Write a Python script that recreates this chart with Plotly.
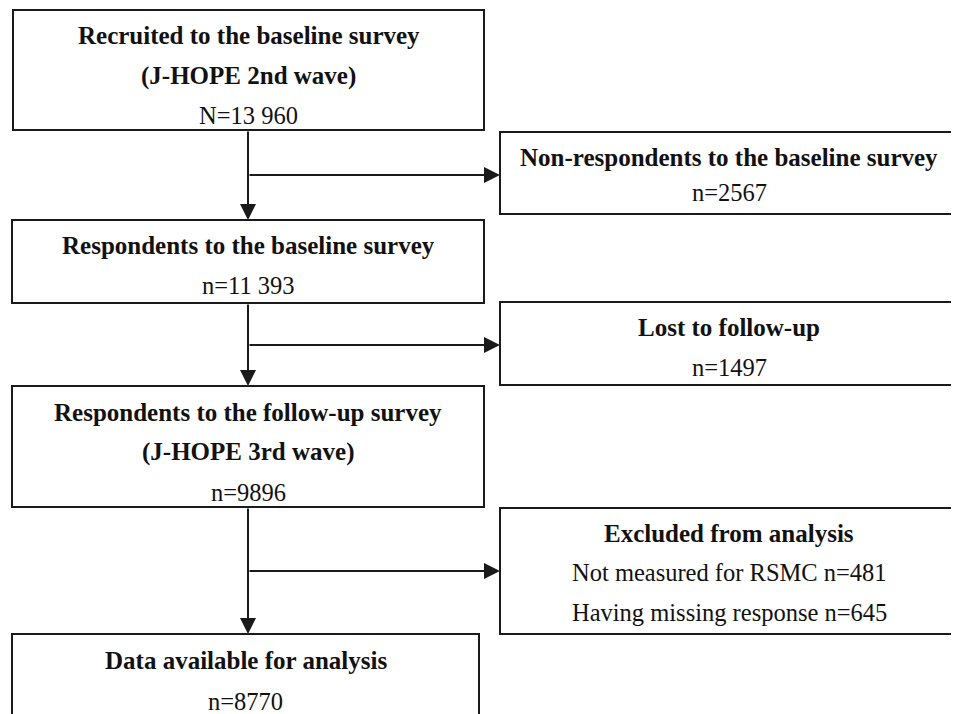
import plotly.graph_objects as go

# ---- data ----
stage_titles = [
    ["Recruited to the baseline survey", "(J-HOPE 2nd wave)"],
    ["Respondents to the baseline survey"],
    ["Respondents to the follow-up survey", "(J-HOPE 3rd wave)"],
    ["Data available for analysis"],
]
stage_counts = ["N=13 960", "n=11 393", "n=9896", "n=8770"]

excl_titles = ["Non-respondents to the baseline survey", "Lost to follow-up", "Excluded from analysis"]
excl_lines = [["n=2567"], ["n=1497"], ["Not measured for RSMC n=481", "Having missing response n=645"]]

# ---- layout geometry (pixels) ----
main_boxes = [(13, 10, 484, 130), (12, 220, 484, 303), (12, 386, 484, 507), (12, 634, 479, 730)]
main_line_y = [[35, 76, 115], [245, 285], [412, 452, 492], [660, 701]]
side_boxes = [(500, 132, 958, 214), (500, 302, 958, 385), (500, 508, 958, 634)]
side_line_y = [[157, 192], [327, 367], [533, 572, 612]]
branch_y = [175, 345, 571]
spine_x = 248

LINE = "#1a1a1a"
FONT = "Liberation Serif"
FS_B = 25
FS_R = 24.5
OFF = 8  # page body margin

fig = go.Figure()
fig.add_trace(go.Scatter(x=[OFF, 959 + OFF], y=[OFF, 714 + OFF], mode="markers",
                         marker=dict(opacity=0), hoverinfo="skip", showlegend=False))

shapes = []
annotations = []

def add_box(b):
    shapes.append(dict(type="rect", xref="x", yref="y", x0=b[0], y0=b[1], x1=b[2], y1=b[3],
                       line=dict(color=LINE, width=2), fillcolor="white", layer="below"))

def add_text(x, y, s, bold=False):
    annotations.append(dict(x=x, y=y, xref="x", yref="y", text=("<b>%s</b>" % s) if bold else s,
                            showarrow=False, xanchor="center", yanchor="middle",
                            font=dict(family=FONT, size=FS_B if bold else FS_R, color="#111")))

for i, b in enumerate(main_boxes):
    add_box(b)
    cx = (b[0] + b[2]) / 2
    lines = [(t, True) for t in stage_titles[i]] + [(stage_counts[i], False)]
    for (t, bold), y in zip(lines, main_line_y[i]):
        add_text(cx, y, t, bold)

for i, b in enumerate(side_boxes):
    add_box(b)
    cx = (b[0] + b[2]) / 2
    lines = [(excl_titles[i], True)] + [(t, False) for t in excl_lines[i]]
    for (t, bold), y in zip(lines, side_line_y[i]):
        add_text(cx, y, t, bold)

def arrow(x0, y0, x1, y1):
    annotations.append(dict(x=x1, y=y1, ax=x0, ay=y0, xref="x", yref="y", axref="x", ayref="y",
                            text="", showarrow=True, arrowhead=2, arrowsize=1.6, arrowwidth=2,
                            arrowcolor=LINE, standoff=0, startstandoff=0))

for i in range(3):
    arrow(spine_x, main_boxes[i][3], spine_x, main_boxes[i + 1][1])
for i, y in enumerate(branch_y):
    arrow(spine_x, y, side_boxes[i][0], y)

fig.update_layout(
    width=959, height=714,
    margin=dict(l=0, r=0, t=0, b=0),
    paper_bgcolor="white", plot_bgcolor="white",
    xaxis=dict(range=[OFF, 959 + OFF], visible=False, fixedrange=True),
    yaxis=dict(range=[714 + OFF, OFF], visible=False, fixedrange=True),
    shapes=shapes, annotations=annotations, showlegend=False,
)

fig.write_html("out.html")
